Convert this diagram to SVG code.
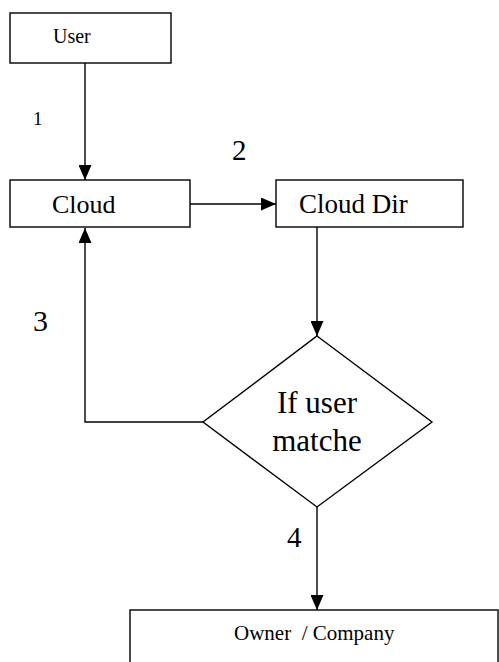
<svg xmlns="http://www.w3.org/2000/svg" width="499" height="662" viewBox="0 0 499 662">
<style>
.box{fill:#fff;stroke:#000;stroke-width:1.4}
.ln{fill:none;stroke:#000;stroke-width:1.4}
.t{font-family:'Liberation Serif','DejaVu Serif',serif;fill:#000}
</style>
<defs>
<marker id="ah" viewBox="0 0 15 13" refX="15" refY="6.5" markerWidth="15" markerHeight="13" markerUnits="userSpaceOnUse" orient="auto">
<path d="M0,0 L15,6.5 L0,13 z" fill="#000"/>
</marker>
</defs>
<rect width="499" height="662" fill="#fff"/>
<g id="connectors">
<line class="ln" x1="85" y1="63" x2="85" y2="180" marker-end="url(#ah)"/>
<line class="ln" x1="190" y1="204" x2="276" y2="204" marker-end="url(#ah)"/>
<line class="ln" x1="317" y1="227" x2="317" y2="336" marker-end="url(#ah)"/>
<polyline class="ln" points="203,422 85,422 85,228" marker-end="url(#ah)"/>
<line class="ln" x1="317" y1="507" x2="317" y2="610" marker-end="url(#ah)"/>
<text class="t" x="33" y="125" font-size="19">1</text>
<text class="t" x="232" y="160" font-size="29">2</text>
<text class="t" x="33" y="331" font-size="30">3</text>
<text class="t" x="287" y="547" font-size="29">4</text>
</g>
<g id="user">
<rect class="box" x="10" y="13" width="161" height="50"/>
<text class="t" x="53" y="43" font-size="20">User</text>
</g>
<g id="cloud">
<rect class="box" x="10" y="180" width="180" height="47"/>
<text class="t" x="52" y="213" font-size="26">Cloud</text>
</g>
<g id="clouddir">
<rect class="box" x="276" y="180" width="187" height="47"/>
<text class="t" x="299" y="213" font-size="27">Cloud Dir</text>
</g>
<g id="decision">
<polygon class="box" points="317,336 432,422 317,507 203,422"/>
<text class="t" x="317" y="413" font-size="31" text-anchor="middle">If user</text>
<text class="t" x="317" y="451" font-size="31" text-anchor="middle">matche</text>
</g>
<g id="owner">
<rect class="box" x="130" y="610" width="368" height="60"/>
<text class="t" x="234" y="640" font-size="21" xml:space="preserve">Owner  / Company</text>
</g>
</svg>
